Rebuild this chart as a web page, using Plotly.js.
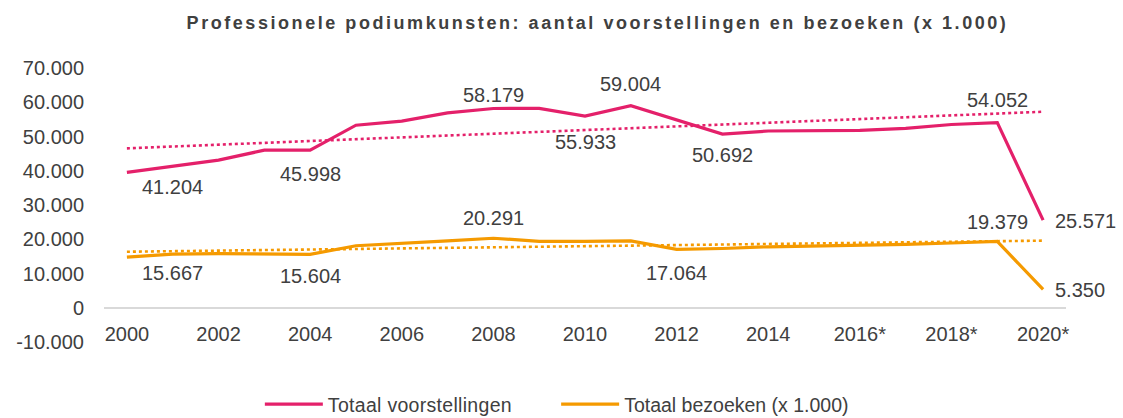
<!DOCTYPE html>
<html>
<head>
<meta charset="utf-8">
<script src="https://cdn.plot.ly/plotly-3.0.1.min.js"></script>
<style>
  html, body { margin: 0; padding: 0; background: #ffffff; }
  #chart { width: 1123px; height: 418px; }
  .gtitle { letter-spacing: 2.55px; }
  .legendtext { letter-spacing: 0.3px; }
</style>
</head>
<body>
<div id="chart"></div>
<script>
// ---- data ----
const years = [2000, 2001, 2002, 2003, 2004, 2005, 2006, 2007, 2008, 2009, 2010,
               2011, 2012, 2013, 2014, 2015, 2016, 2017, 2018, 2019, 2020];
const voorstellingen = [39500, 41204, 43100, 46000, 45998, 53300, 54500, 56900, 58179, 58200, 55933,
                        59004, 54800, 50692, 51600, 51700, 51800, 52400, 53500, 54052, 25571];
const bezoeken = [14800, 15667, 15800, 15800, 15604, 18100, 18700, 19500, 20291, 19400, 19400,
                  19500, 17064, 17300, 17800, 18000, 18400, 18500, 18900, 19379, 5350];

const tickYears = [2000, 2002, 2004, 2006, 2008, 2010, 2012, 2014, 2016, 2018, 2020];
const tickLabels = ['2000', '2002', '2004', '2006', '2008', '2010', '2012', '2014', '2016*', '2018*', '2020*'];
const yTickValues = [-10000, 0, 10000, 20000, 30000, 40000, 50000, 60000, 70000];
const yTickLabels = ['-10.000', '0', '10.000', '20.000', '30.000', '40.000', '50.000', '60.000', '70.000'];

const voorstLabelYears = [2001, 2004, 2008, 2010, 2011, 2013, 2019, 2020];
const bezoekLabelYears = [2001, 2004, 2008, 2012, 2019, 2020];

// label placement (style, not data): pixel offset of label centre, positive = downwards; 'R' = right of point
const voorstLabelOffset = [20, 24, -13, 26, -22, 21, -23, 'R'];
const bezoekLabelOffset = [19, 22, -20, 24, -19, 'R'];

// trendline fitted over 2000-2019, drawn over 2000-2020
const trendFitLastYear = 2019;
const trendDrawYears = [2000, 2020];

const seriesNames = ['Totaal voorstellingen', 'Totaal bezoeken (x 1.000)'];
const pink = '#E4206A';
const orange = '#F59A00';
const textColor = '#404040';
const FONT = 'Liberation Sans, Arial, sans-serif';

function fmt(v) {
  const s = String(Math.round(Math.abs(v)));
  let out = '';
  for (let i = 0; i < s.length; i++) {
    if (i > 0 && (s.length - i) % 3 === 0) out += '.';
    out += s[i];
  }
  return (v < 0 ? '-' : '') + out;
}

function linFit(xs, ys) {
  const n = xs.length;
  const mx = xs.reduce((a, b) => a + b, 0) / n;
  const my = ys.reduce((a, b) => a + b, 0) / n;
  let sxy = 0, sxx = 0;
  for (let i = 0; i < n; i++) { sxy += (xs[i] - mx) * (ys[i] - my); sxx += (xs[i] - mx) ** 2; }
  const slope = sxy / sxx;
  return x => my + slope * (x - mx);
}

function trendTrace(vals, color) {
  const idx = years.map((y, i) => i).filter(i => years[i] <= trendFitLastYear);
  const f = linFit(idx.map(i => years[i]), idx.map(i => vals[i]));
  return {
    x: trendDrawYears, y: trendDrawYears.map(f), mode: 'lines', type: 'scatter',
    line: { color: color, width: 2.6, dash: 'dot' }, showlegend: false, hoverinfo: 'skip'
  };
}

function labelAnns(vals, labelYears, offsets) {
  return labelYears.map((yr, k) => {
    const v = vals[years.indexOf(yr)];
    const a = {
      x: yr, y: v, xref: 'x', yref: 'y', text: fmt(v), showarrow: false,
      font: { family: FONT, size: 20, color: textColor }, yanchor: 'middle'
    };
    if (offsets[k] === 'R') { a.xanchor = 'left'; a.xshift = 10; a.yshift = -1; }
    else { a.yshift = -offsets[k]; }
    return a;
  });
}

const data = [
  trendTrace(voorstellingen, pink),
  trendTrace(bezoeken, orange),
  { x: years, y: voorstellingen, name: seriesNames[0], type: 'scatter', mode: 'lines',
    line: { color: pink, width: 3.2 }, legend: 'legend' },
  { x: years, y: bezoeken, name: seriesNames[1], type: 'scatter', mode: 'lines',
    line: { color: orange, width: 3.2 }, legend: 'legend2' }
];

const legendStyle = {
  orientation: 'h', xanchor: 'left', y: -0.228, yanchor: 'middle',
  font: { family: FONT, size: 19.5, color: textColor },
  itemwidth: 58, bgcolor: 'rgba(0,0,0,0)'
};

const layout = {
  width: 1123, height: 418,
  paper_bgcolor: '#ffffff', plot_bgcolor: '#ffffff',
  margin: { l: 104, r: 57, t: 68, b: 76, autoexpand: false },
  font: { family: FONT, color: textColor },
  title: {
    text: '<b>Professionele podiumkunsten: aantal voorstellingen en bezoeken (x 1.000)</b>',
    font: { family: FONT, size: 18, color: textColor },
    x: 0.513, xref: 'paper', xanchor: 'center',
    y: 0.946, yref: 'container', yanchor: 'middle'
  },
  xaxis: {
    range: [1999.5, 2020.5], tickvals: tickYears, ticktext: tickLabels,
    showgrid: false, zeroline: false,
    showline: true, linecolor: '#D9D9D9', linewidth: 2,
    anchor: 'free', position: 0.125,
    ticks: '', ticklabelstandoff: 8,
    tickfont: { family: FONT, size: 20, color: textColor }
  },
  yaxis: {
    range: [-10000, 70000], tickvals: yTickValues, ticktext: yTickLabels,
    showgrid: false, zeroline: false, showline: false, ticks: '',
    ticklabelstandoff: 19,
    tickfont: { family: FONT, size: 20, color: textColor }
  },
  showlegend: true,
  legend: Object.assign({}, legendStyle, { x: 0.162 }),
  legend2: Object.assign({}, legendStyle, { x: 0.470 }),
  annotations: labelAnns(voorstellingen, voorstLabelYears, voorstLabelOffset)
    .concat(labelAnns(bezoeken, bezoekLabelYears, bezoekLabelOffset))
};

Plotly.newPlot('chart', data, layout, { displayModeBar: false, staticPlot: true });
</script>
</body>
</html>
